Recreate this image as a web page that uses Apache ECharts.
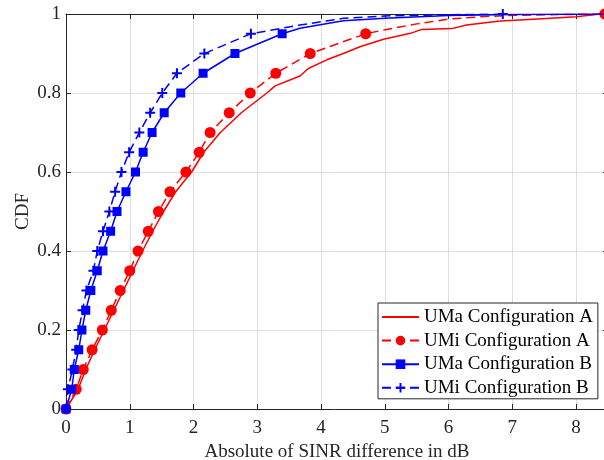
<!DOCTYPE html>
<html>
<head>
<meta charset="utf-8">
<script src="https://cdn.jsdelivr.net/npm/echarts@6/dist/echarts.min.js"></script>
<style>
  html, body { margin: 0; padding: 0; background: #fff; }
  #chart { width: 604px; height: 460px; }
</style>
</head>
<body>
<div id="chart"></div>
<script>
// CDF levels where the markers sit
const cdfLevels = [0, 0.05, 0.1, 0.15, 0.2, 0.25, 0.3, 0.35, 0.4, 0.45, 0.5,
  0.55, 0.6, 0.65, 0.7, 0.75, 0.8, 0.85, 0.9, 0.95, 1]

// UMa Configuration A (solid red, no markers)
const umaAX = [0, 0.19, 0.31, 0.45, 0.6, 0.75, 0.9, 1.05, 1.2, 1.36, 1.53, 1.72, 1.97, 2.16,
  2.42, 2.75, 3.15, 3.28, 3.67, 3.8, 4.09, 4.35, 4.61, 4.98, 5.4, 5.58, 6.05, 6.28, 6.81, 7.33, 8.0, 8.38]
const umaAY = [0, 0.05, 0.1, 0.15, 0.2, 0.25, 0.3, 0.35, 0.4, 0.45, 0.5, 0.55, 0.6, 0.65,
  0.7, 0.75, 0.8, 0.818, 0.843, 0.862, 0.884, 0.9, 0.917, 0.936, 0.951, 0.961, 0.963, 0.972, 0.982, 0.987, 0.993, 1]

// UMi Configuration A (dashed red, circles)
const umiAX = [0, 0.16, 0.27, 0.41, 0.57, 0.71, 0.85, 1.0, 1.13, 1.29, 1.45,
  1.63, 1.88, 2.09, 2.26, 2.56, 2.89, 3.29, 3.83, 4.7, 8.45]
const umiATailX = [5.03, 5.5, 6.0, 6.5, 6.9, 7.5]
const umiATailY = [0.961, 0.975, 0.987, 0.993, 0.996, 0.998]

// UMa Configuration B (solid blue, squares)
const umaBX = [0, 0.09, 0.13, 0.2, 0.25, 0.31, 0.39, 0.49, 0.58, 0.7, 0.8,
  0.94, 1.09, 1.21, 1.35, 1.54, 1.8, 2.15, 2.65, 3.39]
const umaBTailX = [3.67, 4.35, 5.0, 6.0, 7.0, 8.5]
const umaBTailY = [0.964, 0.983, 0.989, 0.996, 0.999, 1]

// UMi Configuration B (dashed blue, plus)
const umiBX = [0, 0.03, 0.1, 0.16, 0.2, 0.26, 0.32, 0.43, 0.49, 0.58, 0.68,
  0.77, 0.87, 0.99, 1.15, 1.32, 1.51, 1.74, 2.17, 2.9, 6.85]
const umiBTailX = [3.67, 4.35, 5.0, 6.0]
const umiBTailY = [0.972, 0.989, 0.995, 0.998]

const seriesNames = ['UMa Configuration A', 'UMi Configuration A', 'UMa Configuration B', 'UMi Configuration B']
const xTicks = [0, 1, 2, 3, 4, 5, 6, 7, 8]

const FONT = '"Liberation Serif", "Times New Roman", serif'
const AXIS = '#262626'
const plusPath = 'path://M4,0h2v4h4v2h-4v4h-2v-4h-4v-2h4z'

// markers at cdf levels, tail points (between the last two markers) without symbol
const withTail = (xs, levels, tailX, tailY, insertAt) => {
  const pts = xs.map((x, i) => ({ value: [x, levels[i]] }))
  const tail = tailX.map((x, i) => ({ value: [x, tailY[i]], symbol: 'none' }))
  pts.splice(insertAt, 0, ...tail)
  return pts
}

const umaAData = umaAX.map((x, i) => [x, umaAY[i]])
const umiAData = withTail(umiAX, cdfLevels, umiATailX, umiATailY, 20)
const umaBData = withTail(umaBX, cdfLevels, umaBTailX, umaBTailY, 20)
const umiBData = withTail(umiBX, cdfLevels, umiBTailX, umiBTailY, 20)

const chart = echarts.init(document.getElementById('chart'), null, { renderer: 'canvas' })

const option = {
  animation: false,
  backgroundColor: '#fff',
  textStyle: { fontFamily: FONT },
  // plot box runs a few px past the right edge of the picture
  grid: { left: 66, top: 14, width: 542, height: 395, containLabel: false, outerBoundsMode: 'none' },
  legend: {
    orient: 'vertical',
    left: 378,
    top: 303,
    data: [
      // line only, hide the default circle
      { name: seriesNames[0], itemStyle: { opacity: 0 } },
      seriesNames[1],
      seriesNames[2],
      seriesNames[3],
    ],
    backgroundColor: '#fff',
    borderColor: AXIS,
    borderWidth: 1,
    borderRadius: 0,
    padding: [4, 5, 1, 3],
    itemWidth: 37,
    itemHeight: 12,
    itemGap: 3.6,
    textStyle: { fontFamily: FONT, fontSize: 19, color: '#000', lineHeight: 20 },
  },
  xAxis: [
    {
      type: 'value',
      min: 0,
      max: 8.5,
      interval: 1,
      name: 'Absolute of SINR difference in dB',
      nameLocation: 'middle',
      nameGap: 34,
      nameMoveOverlap: false,
      nameTextStyle: { fontFamily: FONT, fontSize: 19, color: '#262626' },
      axisLine: { show: true, onZero: false, lineStyle: { color: AXIS, width: 1 } },
      axisTick: { show: true, inside: true, length: 5, lineStyle: { color: AXIS } },
      axisLabel: {
        fontFamily: FONT, fontSize: 19, color: '#262626', margin: 10,
        showMaxLabel: false,
        formatter: (v) => (xTicks.indexOf(v) >= 0 ? String(v) : ''),
      },
      splitLine: { show: true, lineStyle: { color: '#dfdfdf', width: 1 } },
    },
    {
      type: 'value',
      position: 'top',
      min: 0,
      max: 8.5,
      interval: 1,
      axisLine: { show: true, onZero: false, lineStyle: { color: AXIS, width: 1 } },
      axisTick: { show: true, inside: true, length: 5, lineStyle: { color: AXIS } },
      axisLabel: { show: false },
      splitLine: { show: false },
    },
  ],
  yAxis: [
    {
      type: 'value',
      min: 0,
      max: 1,
      interval: 0.2,
      name: 'CDF',
      nameLocation: 'middle',
      nameGap: 33,
      nameMoveOverlap: false,
      nameTextStyle: { fontFamily: FONT, fontSize: 19, color: '#262626' },
      axisLine: { show: true, onZero: false, lineStyle: { color: AXIS, width: 1 } },
      axisTick: { show: true, inside: true, length: 5, lineStyle: { color: AXIS } },
      axisLabel: { fontFamily: FONT, fontSize: 19, color: '#262626', margin: 5 },
      splitLine: { show: true, lineStyle: { color: '#dfdfdf', width: 1 } },
    },
    {
      type: 'value',
      position: 'right',
      min: 0,
      max: 1,
      interval: 0.2,
      axisLine: { show: true, onZero: false, lineStyle: { color: AXIS, width: 1 } },
      axisTick: { show: true, inside: true, length: 5, lineStyle: { color: AXIS } },
      axisLabel: { show: false },
      splitLine: { show: false },
    },
  ],
  series: [
    {
      name: seriesNames[0],
      type: 'line',
      data: umaAData,
      symbol: 'none',
      color: '#ff0000',
      lineStyle: { color: '#ff0000', width: 1.5 },
      z: 2,
    },
    {
      name: seriesNames[1],
      type: 'line',
      data: umiAData,
      symbol: 'circle',
      symbolSize: 11,
      showAllSymbol: true,
      color: '#ff0000',
      itemStyle: { color: '#ff0000', borderWidth: 0 },
      lineStyle: { color: '#ff0000', width: 1.5, type: [9, 5] },
      z: 3,
    },
    {
      name: seriesNames[2],
      type: 'line',
      data: umaBData,
      symbol: 'rect',
      symbolSize: 9,
      showAllSymbol: true,
      color: '#0000ff',
      itemStyle: { color: '#0000ff', borderWidth: 0 },
      lineStyle: { color: '#0000ff', width: 1.5 },
      z: 4,
    },
    {
      name: seriesNames[3],
      type: 'line',
      data: umiBData,
      symbol: plusPath,
      symbolSize: 10,
      showAllSymbol: true,
      color: '#0000ff',
      itemStyle: { color: '#0000ff', borderWidth: 0 },
      lineStyle: { color: '#0000ff', width: 1.5, type: [9, 5] },
      z: 5,
    },
  ],
}

chart.setOption(option)
</script>
</body>
</html>
